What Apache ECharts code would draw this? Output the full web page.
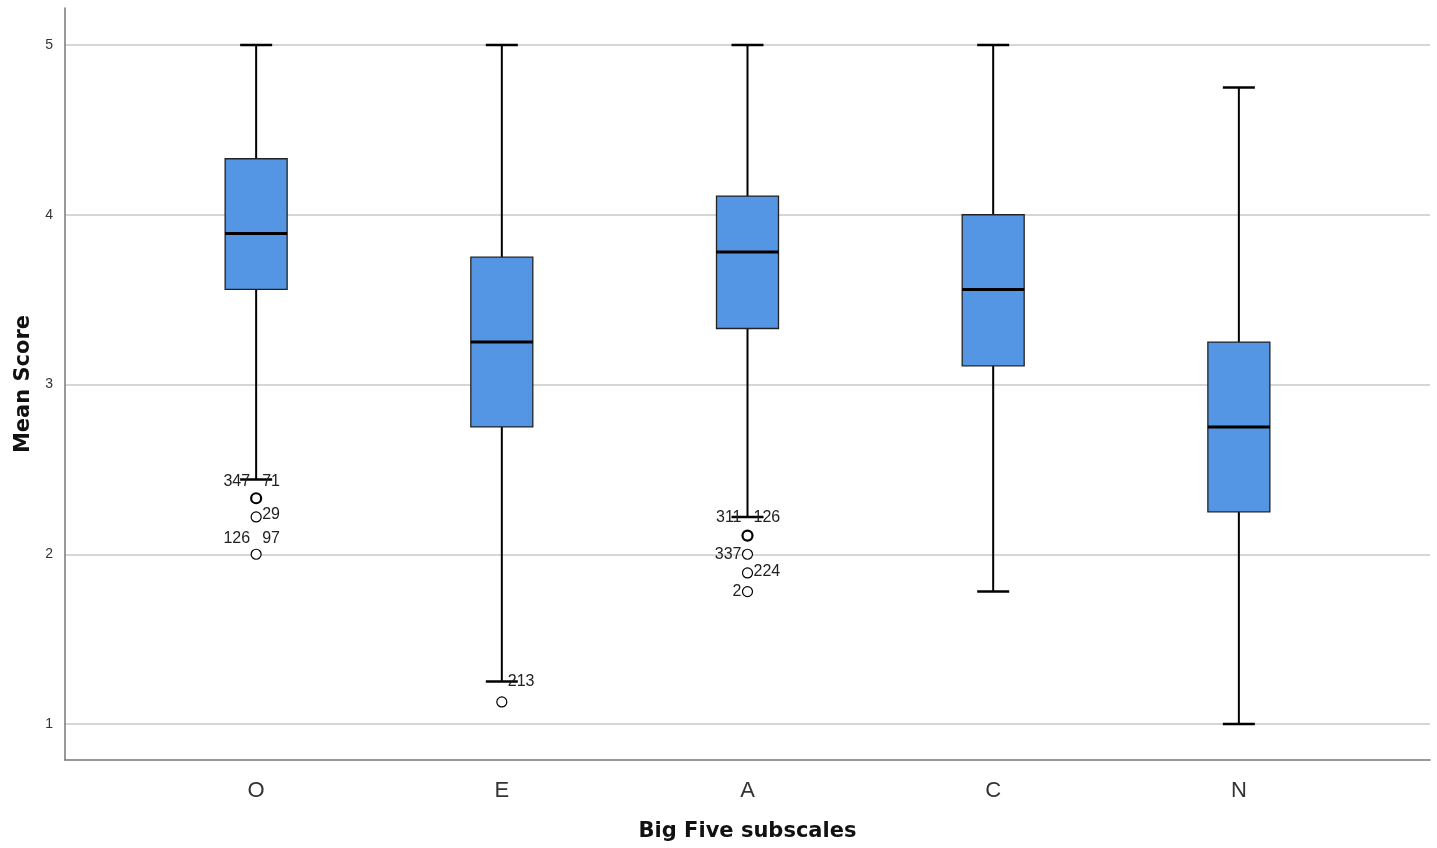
<!DOCTYPE html>
<html>
<head>
<meta charset="utf-8">
<title>Big Five subscales</title>
<script src="https://cdn.jsdelivr.net/npm/echarts@6/dist/echarts.min.js"></script>
<style>
  html, body { margin: 0; padding: 0; background: #fff; }
  #chart { width: 1437px; height: 848px; }
</style>
</head>
<body>
<div id="chart"></div>
<script>
// subscales on the x axis
const categories = ['O', 'E', 'A', 'C', 'N']
// box statistics, one entry per subscale
const whiskerLow = [2.44, 1.25, 2.22, 1.78, 1.00]
const q1 = [3.56, 2.75, 3.33, 3.11, 2.25]
const median = [3.89, 3.25, 3.78, 3.56, 2.75]
const q3 = [4.33, 3.75, 4.11, 4.00, 3.25]
const whiskerHigh = [5.00, 5.00, 5.00, 5.00, 4.75]
// outliers: category index, value, case ids shown left / right
const outlierCat = [0, 0, 0, 1, 2, 2, 2, 2]
const outlierVal = [2.33, 2.22, 2.00, 1.13, 2.11, 2.00, 1.89, 1.78]
const outlierLeft = ['347', '', '126', '', '311', '337', '', '2']
const outlierRight = ['71', '29', '97', '213', '126', '', '224', '']
const yTicks = [1, 2, 3, 4, 5]

// how far each label pair sits above its circle (px)
const labelLift = [17, 2, 16, 20, 18, 0, 1, 0]
const boldRing = [true, false, false, false, true, false, false, false]

const chart = echarts.init(document.getElementById('chart'))

const boxData = categories.map((c, i) => [i, whiskerLow[i], q1[i], median[i], q3[i], whiskerHigh[i]])
const outlierData = outlierVal.map((v, i) => [outlierCat[i], v, i])

const renderBox = (params, api) => {
  const x = api.value(0)
  const pLow = api.coord([x, api.value(1)])
  const pQ1 = api.coord([x, api.value(2)])
  const pMed = api.coord([x, api.value(3)])
  const pQ3 = api.coord([x, api.value(4)])
  const pHigh = api.coord([x, api.value(5)])
  const cx = pMed[0]
  const half = 31
  const cap = 16
  const lineStyle = { stroke: '#000', lineWidth: 2 }
  const capStyle = { stroke: '#000', lineWidth: 2.5 }
  return {
    type: 'group',
    children: [
      { type: 'line', shape: { x1: cx, y1: pLow[1], x2: cx, y2: pQ1[1] }, style: lineStyle },
      { type: 'line', shape: { x1: cx, y1: pQ3[1], x2: cx, y2: pHigh[1] }, style: lineStyle },
      { type: 'line', shape: { x1: cx - cap, y1: pLow[1], x2: cx + cap, y2: pLow[1] }, style: capStyle },
      { type: 'line', shape: { x1: cx - cap, y1: pHigh[1], x2: cx + cap, y2: pHigh[1] }, style: capStyle },
      {
        type: 'rect',
        shape: { x: cx - half, y: pQ3[1], width: half * 2, height: pQ1[1] - pQ3[1] },
        style: { fill: '#5596e4', stroke: '#222', lineWidth: 1.3 }
      },
      { type: 'line', shape: { x1: cx - half, y1: pMed[1], x2: cx + half, y2: pMed[1] }, style: { stroke: '#000', lineWidth: 3 } }
    ]
  }
}

const renderOutlier = (params, api) => {
  const idx = api.value(2)
  const p = api.coord([api.value(0), api.value(1)])
  const lift = labelLift[idx]
  const textStyle = { fill: '#222', fontSize: 16, fontFamily: 'Liberation Sans, Arial, sans-serif', verticalAlign: 'middle' }
  const children = [{
    type: 'circle',
    shape: { cx: p[0], cy: p[1], r: 5 },
    style: { fill: '#fff', stroke: '#000', lineWidth: boldRing[idx] ? 2.2 : 1.2 }
  }]
  if (outlierLeft[idx]) {
    children.push({ type: 'text', x: p[0] - 6, y: p[1] - lift, style: Object.assign({ text: outlierLeft[idx], align: 'right' }, textStyle) })
  }
  if (outlierRight[idx]) {
    children.push({ type: 'text', x: p[0] + 6, y: p[1] - lift, style: Object.assign({ text: outlierRight[idx], align: 'left' }, textStyle) })
  }
  return { type: 'group', children }
}

const option = {
  animation: false,
  backgroundColor: '#fff',
  textStyle: { fontFamily: 'Liberation Sans, Arial, sans-serif' },
  grid: { left: 65, right: 7, top: 8, bottom: 88 },
  xAxis: {
    type: 'value',
    min: -0.778,
    max: 4.778,
    name: 'Big Five subscales',
    nameLocation: 'middle',
    nameGap: 61,
    nameTextStyle: { fontSize: 21, fontWeight: 'bold', color: '#111', fontFamily: 'DejaVu Sans' },
    axisLine: { show: true, onZero: false, lineStyle: { color: '#777', width: 1.5 } },
    axisTick: { show: false },
    splitLine: { show: false },
    axisLabel: {
      customValues: [0, 1, 2, 3, 4],
      formatter: v => categories[Math.round(v)],
      margin: 20,
      fontSize: 22,
      color: '#333'
    }
  },
  yAxis: {
    type: 'value',
    min: 0.788,
    max: 5.218,
    name: 'Mean Score',
    nameLocation: 'middle',
    nameGap: 31,
    nameTextStyle: { fontSize: 21, fontWeight: 'bold', color: '#111', fontFamily: 'DejaVu Sans' },
    axisLine: { show: true, onZero: false, lineStyle: { color: '#777', width: 1.5 } },
    axisTick: { show: false, customValues: yTicks },
    axisLabel: { customValues: yTicks, margin: 12, fontSize: 14, color: '#333' },
    splitLine: { show: true, lineStyle: { color: '#c8c8c8', width: 1.5 } }
  },
  series: [
    {
      type: 'custom',
      renderItem: renderBox,
      encode: { x: 0, y: [1, 2, 3, 4, 5] },
      data: boxData,
      z: 3
    },
    {
      type: 'custom',
      renderItem: renderOutlier,
      encode: { x: 0, y: 1 },
      data: outlierData,
      z: 4
    }
  ]
}

chart.setOption(option)
</script>
</body>
</html>
